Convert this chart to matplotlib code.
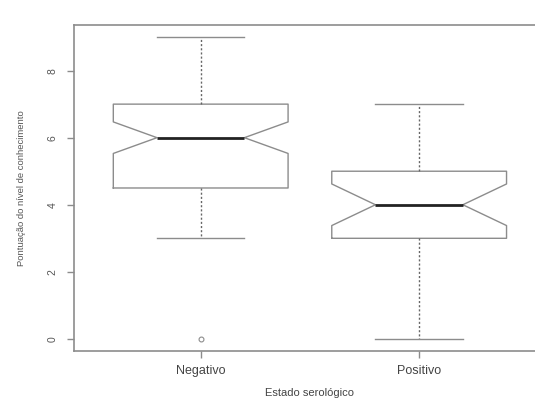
import matplotlib.pyplot as plt

# Dados (boxplot com entalhe)
grupos = ["Negativo", "Positivo"]
medianas = [6.0, 4.0]
q1 = [4.5, 3.0]
q3 = [7.0, 5.0]
whisk_lo = [3.0, 0.0]
whisk_hi = [9.0, 7.0]
notch_lo = [5.53, 3.38]
notch_hi = [6.47, 4.62]
outliers = [[0.0], []]
y_ticks = [0, 2, 4, 6, 8]

plt.rcParams["font.family"] = ["Liberation Sans", "DejaVu Sans"]

stats = []
for i, g in enumerate(grupos):
    stats.append({
        "label": g, "med": medianas[i], "q1": q1[i], "q3": q3[i],
        "whislo": whisk_lo[i], "whishi": whisk_hi[i],
        "cilo": notch_lo[i], "cihi": notch_hi[i], "fliers": outliers[i],
    })

fig = plt.figure(figsize=(5.35, 4.01), dpi=100)
ax = fig.add_axes([0.1383, 0.1247, 0.882, 0.813])

GRAY = "#8c8c8c"
ax.bxp(stats, positions=[1, 2], widths=0.8, shownotches=True,
       boxprops=dict(color=GRAY, linewidth=1.0),
       whiskerprops=dict(color="#666666", linewidth=1.0, linestyle=(0, (1.5, 1.5))),
       capprops=dict(color=GRAY, linewidth=1.0),
       medianprops=dict(color="#222222", linewidth=2.0),
       flierprops=dict(marker="o", markersize=3.5, markerfacecolor="none",
                       markeredgecolor=GRAY, markeredgewidth=0.8),
       capwidths=0.4)

ax.set_xlim(0.42, 2.58)
ax.set_ylim(-0.36, 9.36)
ax.set_yticks(y_ticks)
ax.set_yticklabels([str(t) for t in y_ticks], rotation=90, va="center",
                   fontsize=7.5, color="#555555")
ax.set_xticks([1, 2])
ax.set_xticklabels(grupos, fontsize=9, color="#444444")
ax.tick_params(axis="both", color=GRAY, length=5, width=1.0)
ax.tick_params(axis="y", pad=7)
ax.tick_params(axis="x", pad=5)
for s in ax.spines.values():
    s.set_color(GRAY)
    s.set_linewidth(1.2)

ax.set_ylabel("Pontuação do nível de conhecimento", fontsize=6.8, color="#555555",
              labelpad=15)
ax.set_xlabel("Estado serológico", fontsize=8, color="#444444", labelpad=8)

fig.savefig("out.png", dpi=100)
